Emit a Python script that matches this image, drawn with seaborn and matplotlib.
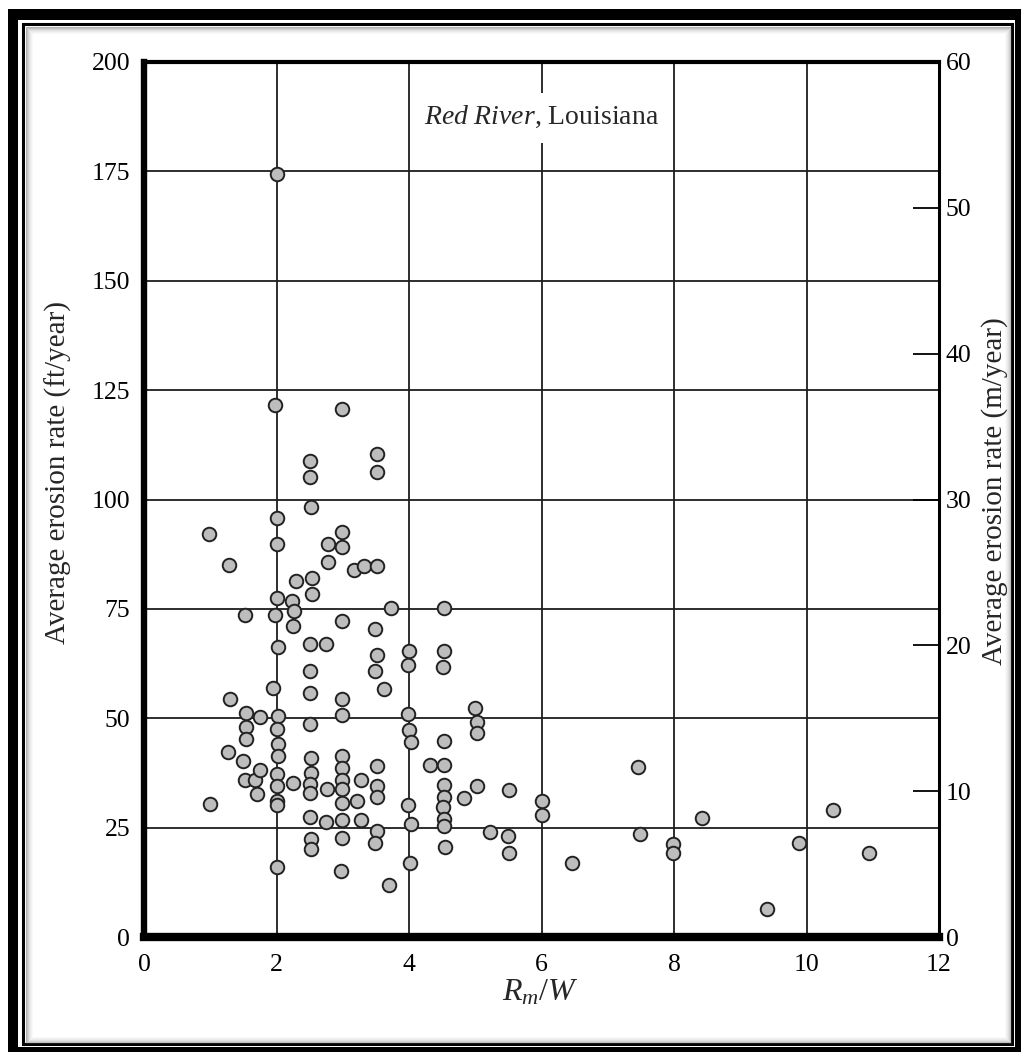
import matplotlib
matplotlib.use("Agg")
import matplotlib.pyplot as plt
import seaborn as sns
import numpy as np
import pandas as pd
from matplotlib.patches import Rectangle

# ---------------- data ----------------
ratio = [
    0.98, 1.00, 1.28, 1.30, 1.27,
    1.52, 1.54, 1.54, 1.54, 1.50, 1.52, 1.67, 1.70, 1.75, 1.75,
    1.97, 2.00, 2.00, 2.00, 2.00, 1.97, 2.03, 1.95, 2.03, 2.00, 2.03, 2.03, 2.00, 2.00, 2.00, 2.00, 2.00,
    2.24, 2.27, 2.25, 2.30, 2.25,
    2.50, 2.50, 2.52, 2.53, 2.53, 2.50, 2.50, 2.50, 2.50, 2.52, 2.52, 2.50, 2.50, 2.50, 2.52, 2.52,
    2.74, 2.78, 2.78, 2.76, 2.74,
    2.99, 2.99, 2.99, 2.99, 2.99, 2.99, 2.99, 2.99, 2.99, 2.99, 2.99, 2.99, 2.99, 2.98,
    3.17, 3.32, 3.27, 3.22, 3.27,
    3.52, 3.52, 3.52, 3.49, 3.52, 3.49, 3.52, 3.52, 3.52, 3.52, 3.49,
    3.62, 3.73, 3.70,
    4.00, 3.98, 3.98, 4.00, 4.03, 3.98, 4.03, 4.02,
    4.32,
    4.53, 4.53, 4.51, 4.53, 4.53, 4.53, 4.53, 4.51, 4.53, 4.53, 4.55,
    4.83, 5.00, 5.03, 5.03, 5.03, 5.22,
    5.51, 5.49, 5.51,
    6.00, 6.00, 6.46,
    7.46, 7.48, 7.99, 7.99, 8.42,
    9.40, 9.89, 10.40, 10.94,
]
erosion_ft = [
    92.1, 30.4, 85.0, 54.5, 42.4,
    73.7, 51.1, 47.9, 45.2, 40.2, 36.0, 36.0, 32.6, 50.2, 38.1,
    121.7, 174.3, 95.8, 89.8, 77.6, 73.6, 66.2, 57.0, 50.6, 47.6, 44.1, 41.4, 37.3, 34.5, 31.2, 30.1, 16.1,
    76.7, 74.6, 71.1, 81.4, 35.1,
    108.7, 105.1, 98.3, 82.0, 78.3, 67.0, 60.8, 55.7, 48.8, 40.9, 37.5, 35.0, 33.0, 27.4, 22.3, 20.2,
    67.0, 89.9, 85.8, 33.9, 26.3,
    120.6, 92.6, 89.2, 72.2, 54.3, 50.8, 41.4, 38.6, 36.0, 33.9, 30.7, 26.7, 22.7, 15.1,
    83.9, 84.8, 36.0, 31.2, 26.7,
    110.5, 106.3, 84.8, 70.5, 64.5, 60.8, 39.2, 34.5, 32.0, 24.2, 21.6,
    56.8, 75.2, 11.9,
    65.3, 62.1, 50.9, 47.3, 44.5, 30.1, 25.8, 16.9,
    39.4,
    75.3, 65.3, 61.7, 44.7, 39.4, 34.8, 32.0, 29.7, 27.0, 25.4, 20.6,
    31.8, 52.4, 49.1, 46.6, 34.5, 24.1,
    33.5, 23.1, 19.3,
    31.2, 27.9, 17.0,
    38.8, 23.5, 21.2, 19.3, 27.3,
    6.4, 21.6, 29.0, 19.3,
]
x_ticks = [0, 2, 4, 6, 8, 10, 12]
y_ticks_ft = [0, 25, 50, 75, 100, 125, 150, 175, 200]
y_ticks_m = [0, 10, 20, 30, 40, 50, 60]

df = pd.DataFrame({"ratio": ratio, "erosion": erosion_ft})

# ---------------- style ----------------
sns.set_style("white")
plt.rcParams["font.family"] = ["Liberation Serif", "DejaVu Serif"]
plt.rcParams["mathtext.fontset"] = "custom"
plt.rcParams["mathtext.rm"] = "Liberation Serif"
plt.rcParams["mathtext.it"] = "Liberation Serif:italic"

W, H = 1021, 1052
fig = plt.figure(figsize=(W / 100, H / 100), dpi=100)
fig.patch.set_facecolor("white")


def rect_px(x0, y0, x1, y1, **kw):
    # pixel coordinates measured from the top-left corner
    r = Rectangle((x0 / W, 1 - y1 / H), (x1 - x0) / W, (y1 - y0) / H,
                  transform=fig.transFigure, **kw)
    fig.add_artist(r)
    return r


# decorative frame
rect_px(8, 9, 1030, 1060, facecolor="black", edgecolor="none", zorder=-10)
rect_px(18, 20, 1015, 1047, facecolor="white", edgecolor="none", zorder=-9)
rect_px(23, 24, 1012, 1044, facecolor="none", edgecolor="black", lw=2.2, zorder=-8)
alphas = [0.40, 0.30, 0.22, 0.15, 0.10, 0.06, 0.03]
for i, a in enumerate(alphas):
    d = 25.5 + i * 1.0
    rect_px(d, d + 1, 1010.5 - i * 1.0, 1042.5 - i * 1.0, facecolor="none",
            edgecolor=(0.25, 0.25, 0.25, a), lw=0.75, zorder=-7)

# axes position
L, R, T, B = 144, 939, 62, 937
ax = fig.add_axes([L / W, 1 - B / H, (R - L) / W, (B - T) / H])

sns.scatterplot(data=df, x="ratio", y="erosion", ax=ax, s=95,
                color="#bdbdbd", edgecolor="#222222", linewidth=1.4, zorder=4,
                legend=False)

ax.set_xlim(0, 12)
ax.set_ylim(0, 200)
ax.set_xticks(x_ticks)
ax.set_yticks(y_ticks_ft)
ax.set_xticklabels([str(v) for v in x_ticks])
ax.set_yticklabels([str(v) for v in y_ticks_ft])
ax.set_axisbelow(True)
ax.grid(True, color="#1e1e1e", lw=1.3)
ax.tick_params(axis="both", length=0, labelsize=18.5, colors="black")
ax.tick_params(axis="x", pad=12)
ax.tick_params(axis="y", pad=10)

for side, lw in (("bottom", 6.0), ("left", 4.6), ("top", 3.0), ("right", 2.2)):
    ax.spines[side].set_visible(True)
    ax.spines[side].set_color("black")
    ax.spines[side].set_linewidth(lw)

ax.set_xlabel(r"$R_m/W$", fontsize=23)
ax.set_ylabel("Average erosion rate (ft/year)", fontsize=21)
ax.xaxis.set_label_coords(0.498, -0.047)
ax.yaxis.set_label_coords(-0.091, 0.531)

# right axis in m/year
ax2 = ax.twinx()
ax2.set_ylim(0, 60)
ax2.set_yticks(y_ticks_m)
ax2.set_yticklabels([str(v) for v in y_ticks_m])
ax2.tick_params(axis="y", direction="in", length=18.5, width=1.3, pad=5,
                labelsize=18.5, colors="black")
for s in ax2.spines.values():
    s.set_visible(False)
ax2.set_ylabel("Average erosion rate (m/year)", fontsize=21, rotation=90)
ax2.yaxis.set_label_coords(1.053, 0.51)

# white gap in the x=6 grid line behind the annotation
ax.add_patch(Rectangle((5.9, 181.5), 0.2, 11.5, facecolor="white",
                       edgecolor="none", zorder=2))
ax.text(6, 187.5, r"$\mathit{Red\ River}$, Louisiana", fontsize=20,
        ha="center", va="center", zorder=5)

fig.savefig("out.png", dpi=100)
